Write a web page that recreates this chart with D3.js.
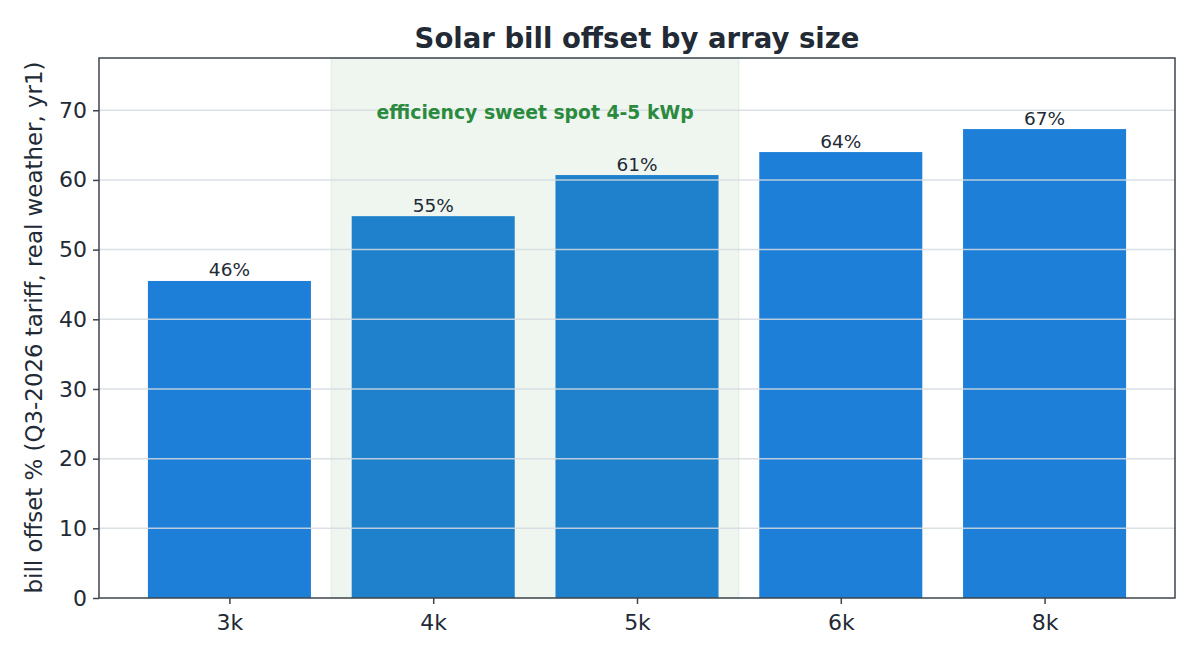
<!DOCTYPE html>
<html>
<head>
<meta charset="utf-8">
<script src="https://cdn.jsdelivr.net/npm/d3@7"></script>
<style>
  body { margin: 0; background: #fff; }
  text { font-family: "DejaVu Sans", sans-serif; }
</style>
</head>
<body>
<div id="chart"></div>
<script>
const width = 1200;
const height = 660;
const margin = { top: 58, right: 25, bottom: 62, left: 99 };

// chart values
const sizes = ["3k", "4k", "5k", "6k", "8k"];
const offsets = [45.5, 54.8, 60.7, 64.0, 67.3];
const barLabels = ["46%", "55%", "61%", "64%", "67%"];
const yTicks = [0, 10, 20, 30, 40, 50, 60, 70];
const band = { from: 0.5, to: 2.5, label: "efficiency sweet spot 4-5 kWp", labelY: 69.6 };

const svg = d3.select("#chart").append("svg")
    .attr("width", width)
    .attr("height", height);

const innerW = width - margin.left - margin.right;
const innerH = height - margin.top - margin.bottom;

// matplotlib-style linear x with bar index positions
const x = d3.scaleLinear()
    .domain([-0.64, sizes.length - 1 + 0.64])
    .range([margin.left, margin.left + innerW]);

const y = d3.scaleLinear()
    .domain([0, 77.5])
    .range([margin.top + innerH, margin.top]);

const barW = 0.8;

// bars
svg.append("g").selectAll("rect")
    .data(offsets)
    .join("rect")
    .attr("x", (d, i) => x(i - barW / 2))
    .attr("width", (d, i) => x(i + barW / 2) - x(i - barW / 2))
    .attr("y", d => y(d))
    .attr("height", d => y(0) - y(d))
    .attr("fill", "#1e7fd8");

// highlighted band, drawn over bars with low alpha
svg.append("rect")
    .attr("x", x(band.from))
    .attr("width", x(band.to) - x(band.from))
    .attr("y", margin.top)
    .attr("height", innerH)
    .attr("fill", "#2e8b3e")
    .attr("fill-opacity", 0.08)
    .attr("stroke", "#2e8b3e")
    .attr("stroke-opacity", 0.08)
    .attr("stroke-width", 1.5);

// grid lines
svg.append("g").selectAll("line")
    .data(yTicks.filter(t => t > 0))
    .join("line")
    .attr("x1", margin.left)
    .attr("x2", margin.left + innerW)
    .attr("y1", d => y(d))
    .attr("y2", d => y(d))
    .attr("stroke", "#d5dbe0")
    .attr("stroke-opacity", 0.85)
    .attr("stroke-width", 1.5);

// bar value labels
svg.append("g").selectAll("text")
    .data(offsets)
    .join("text")
    .attr("x", (d, i) => x(i))
    .attr("y", d => y(d) - 4.5)
    .attr("text-anchor", "middle")
    .attr("font-size", 18.5)
    .attr("fill", "#222a35")
    .text((d, i) => barLabels[i]);

// band annotation
svg.append("text")
    .attr("x", x((band.from + band.to) / 2))
    .attr("y", y(band.labelY))
    .attr("text-anchor", "middle")
    .attr("dominant-baseline", "middle")
    .attr("font-size", 18.8)
    .attr("font-weight", "bold")
    .attr("fill", "#2a8a3e")
    .text(band.label);

// axes
const xAxis = svg.append("g")
    .attr("transform", `translate(0,${margin.top + innerH})`)
    .call(d3.axisBottom(x)
        .tickValues(d3.range(sizes.length))
        .tickFormat(i => sizes[i])
        .tickSize(6)
        .tickPadding(10));

const yAxis = svg.append("g")
    .attr("transform", `translate(${margin.left},0)`)
    .call(d3.axisLeft(y)
        .tickValues(yTicks)
        .tickSize(6)
        .tickPadding(6));

[xAxis, yAxis].forEach(g => {
    g.select(".domain").remove();
    g.selectAll(".tick line").attr("stroke", "#3d444c").attr("stroke-width", 1.5);
    g.selectAll(".tick text")
        .attr("font-size", 22)
        .attr("fill", "#222a35")
        .attr("font-family", "DejaVu Sans, sans-serif");
});

// frame
svg.append("rect")
    .attr("x", margin.left)
    .attr("y", margin.top)
    .attr("width", innerW)
    .attr("height", innerH)
    .attr("fill", "none")
    .attr("stroke", "#3d444c")
    .attr("stroke-width", 1.5);

// title
svg.append("text")
    .attr("x", margin.left + innerW / 2)
    .attr("y", 47.5)
    .attr("text-anchor", "middle")
    .attr("font-size", 27.5)
    .attr("font-weight", "bold")
    .attr("fill", "#222a35")
    .text("Solar bill offset by array size");

// y axis title
svg.append("text")
    .attr("transform", `translate(42,${margin.top + innerH / 2 - 0.5}) rotate(-90)`)
    .attr("text-anchor", "middle")
    .attr("font-size", 22.9)
    .attr("fill", "#222a35")
    .text("bill offset % (Q3-2026 tariff, real weather, yr1)");
</script>
</body>
</html>
